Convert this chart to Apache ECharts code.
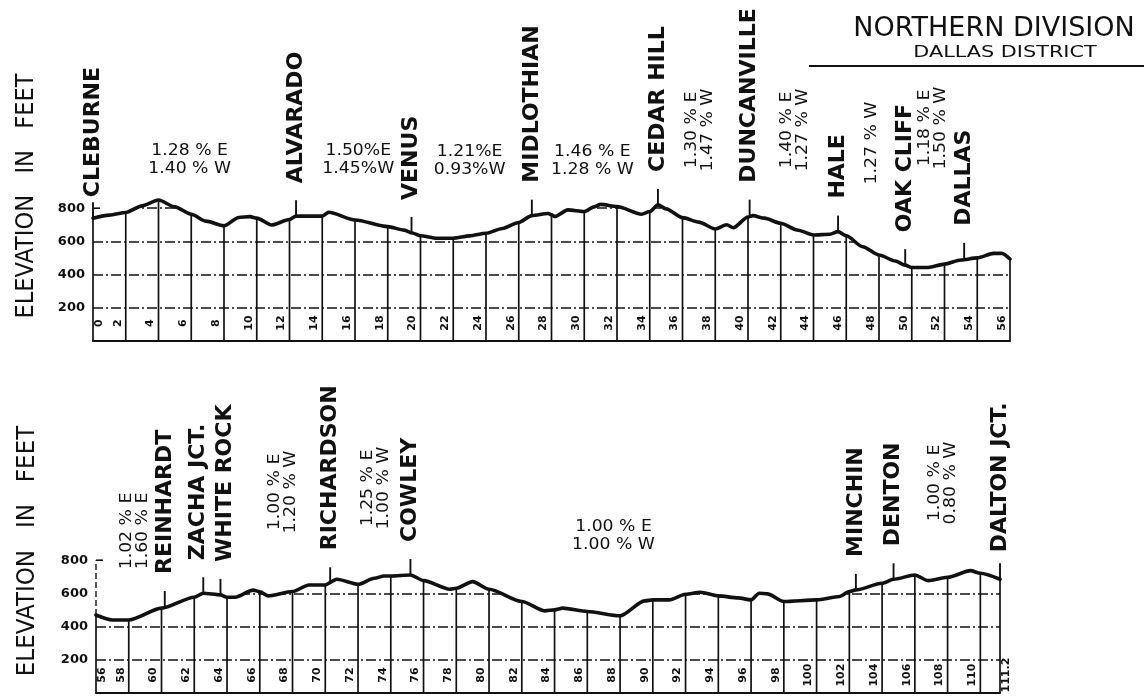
<!DOCTYPE html>
<html><head><meta charset="utf-8">
<script src="https://cdn.jsdelivr.net/npm/echarts@6/dist/echarts.min.js"></script>
<style>html,body{margin:0;padding:0;background:#fff}#c{width:1144px;height:696px}</style>
</head><body><div id="c"></div>
<script>
// ---------- DATA ----------
// profile: [milepost, elevation ft]
const topProfile = [[0,740],[1,758],[2,774],[3,814],[4,849],[5,808],[6,764],[6.9,722],[8,694],[8.9,744],[9.6,749],[10,740],[10.9,699],[12,732],[12.4,752],[14,752],[14.4,776],[16,729],[18,689],[19,668],[19.5,651],[20,634],[21,619],[22,619],[23,633],[24,649],[25,678],[26,714],[26.8,755],[27.8,768],[28,760],[28.2,750],[29,790],[30,780],[30.6,808],[31,823],[32,810],[33.5,764],[34,780],[34.5,820],[35,796],[36,743],[37,716],[38,675],[38.7,700],[39.1,682],[40,747],[40.3,755],[41,740],[42,709],[43,669],[44,639],[45,643],[45.5,659],[46,634],[47,568],[48,518],[49,482],[49.6,457],[50,443],[51,443],[52,463],[53,488],[54,501],[55,528],[55.5,528],[56,494]];
const bottomProfile = [[56,470],[57,440],[58,440],[60,511],[62,577],[62.55,601],[63.6,591],[64,577],[64.5,577],[65.6,620],[66,610],[66.5,585],[68,611],[69,651],[70,651],[70.7,685],[72,655],[73,691],[73.6,705],[74,705],[75.2,711],[76,677],[77.6,625],[78,631],[79,671],[80,625],[82,551],[83.4,495],[84,501],[84.5,511],[86,491],[88,465],[89.5,555],[90,561],[91,561],[92,595],[92.9,607],[94,585],[95.2,573],[96,561],[96.5,601],[97,597],[98,551],[100,561],[101.4,581],[102,611],[102.4,621],[104,661],[104.7,685],[106,711],[106.8,677],[108,697],[109.4,737],[110,721],[111.2,685]];

const topStations = ['CLEBURNE','ALVARADO','VENUS','MIDLOTHIAN','CEDAR HILL','DUNCANVILLE','HALE','OAK CLIFF','DALLAS'];
const topStationMiles = [0,12.4,19.45,26.8,34.5,40.1,45.5,49.6,53.2];
const topStationElev = [740,752,651,755,820,755,659,457,495];

const bottomStations = ['REINHARDT','ZACHA JCT.','WHITE ROCK','RICHARDSON','COWLEY','MINCHIN','DENTON','DALTON JCT.'];
const bottomStationMiles = [60.2,62.55,63.6,70.3,75.2,102.4,104.7,111.2];
const bottomStationElev = [518,601,591,661,711,621,685,685];

const topTickLabels = ['0','2','4','6','8','10','12','14','16','18','20','22','24','26','28','30','32','34','36','38','40','42','44','46','48','50','52','54','56'];
const bottomTickLabels = ['56','58','60','62','64','66','68','70','72','74','76','78','80','82','84','86','88','90','92','94','96','98','100','102','104','106','108','110','111.2'];
const elevTickLabels = ['200','400','600','800'];

const topGrades = [['1.28 % E','1.40 % W'],['1.50%E','1.45%W'],['1.21%E','0.93%W'],['1.46 % E','1.28 % W'],['1.30 % E','1.47 % W'],['1.40 % E','1.27 % W'],['1.27 % W'],['1.18 % E','1.50 % W']];
const topGradeMiles = [5.9,16.2,23.0,30.5,37.1,42.9,47.6,51.3];
const bottomGrades = [['1.02 % E','1.60 % E'],['1.00 % E','1.20 % W'],['1.25 % E','1.00 % W'],['1.00 % E','1.00 % W'],['1.00 % E','0.80 % W']];
const bottomGradeMiles = [58.4,67.4,73.1,87.6,107.7];

// ---------- LAYOUT (pixel offsets of annotations, not data) ----------
const topGradeLayout = [{dy:181,rot:0},{dy:181,rot:0},{dy:180,rot:0},{dy:180,rot:0},{dy:211,rot:1},{dy:211,rot:1},{dy:198,rot:1},{dy:213,rot:1}];
const bottomGradeLayout = [{dy:162,rot:1},{dy:201,rot:1},{dy:205,rot:1},{dy:157,rot:0},{dy:210,rot:1}];
const topNameShift = [[0,-12],[0,0],[0,0],[0,0],[0,0],[0,0],[0,0],[0,0],[0,0]];
const bottomNameShift = [[0,0],[-5,0],[5,0],[0,0],[0,0],[0,0],[0,0],[0,-6]];

const INK = '#111';
const FONT = '"DejaVu Sans", sans-serif';
const TOP_ELEV = Math.max(...elevTickLabels.map(Number));

function profileSeries(i, data) {
  return {
    type:'line', xAxisIndex:i, yAxisIndex:i, data:data, symbol:'none', showSymbol:false,
    smooth:0.25, smoothMonotone:'x', clip:false, silent:true,
    lineStyle:{color:INK, width:3.6, join:'round', cap:'round'},
    areaStyle:{color:'#fff', opacity:1, origin:'end'},
    z:2
  };
}
function verticalsSeries(i, data) {
  const last = data[data.length-1][0];
  const pts = data.filter(d => Math.abs(d[0] % 2) < 1e-9 || d[0] === last);
  return {
    type:'custom', xAxisIndex:i, yAxisIndex:i, data:pts, clip:false, silent:true, z:3,
    renderItem:(p, api) => {
      const a = api.coord([api.value(0), 0]);
      const b = api.coord([api.value(0), api.value(1)]);
      const kids = [{type:'line', shape:{x1:a[0],y1:a[1],x2:b[0],y2:b[1]}, style:{stroke:INK, lineWidth:1.7}}];
      if (p.dataIndex === 0) {
        const t = api.coord([api.value(0), TOP_ELEV]);
        kids.push({type:'line', shape:{x1:b[0],y1:b[1],x2:t[0],y2:t[1]}, style:{stroke:INK, lineWidth:1.4, lineDash:[6,3]}});
        kids.push({type:'line', shape:{x1:t[0],y1:t[1],x2:t[0]+7,y2:t[1]}, style:{stroke:INK, lineWidth:1.6}});
      }
      return {type:'group', children:kids};
    }
  };
}
function stationSeries(i, names, miles, elev, shift) {
  return {
    type:'custom', xAxisIndex:i, yAxisIndex:i, clip:false, silent:true, z:5,
    data: miles.map((m,k) => [m, elev[k]]),
    renderItem:(p, api) => {
      const c = api.coord([api.value(0), api.value(1)]);
      const s = shift[p.dataIndex];
      return {type:'group', children:[
        {type:'line', shape:{x1:c[0],y1:c[1],x2:c[0],y2:c[1]-16}, style:{stroke:INK, lineWidth:1.9}},
        {type:'text', x:c[0]+s[0], y:c[1]-33-s[1], rotation:Math.PI/2,
         style:{text:names[p.dataIndex], font:'bold 22px '+FONT, fill:INK,
                align:'left', verticalAlign:'middle', textAlign:'left', textVerticalAlign:'middle'}}
      ]};
    }
  };
}
function gradeSeries(i, notes, miles, layout) {
  return {
    type:'custom', xAxisIndex:i, yAxisIndex:i, clip:false, silent:true, z:5,
    data: miles.map(m => [m, 0]),
    renderItem:(p, api) => {
      const L = layout[p.dataIndex];
      const c = api.coord([api.value(0), 0]);
      return {type:'text', x:c[0], y:c[1]-L.dy, rotation: L.rot ? Math.PI/2 : 0, scaleX:1.15,
        style:{text:notes[p.dataIndex].join('\n'), font:'15px '+FONT, fill:INK, lineHeight: L.rot ? 16 : 18,
               align:'center', verticalAlign:'middle', textAlign:'center', textVerticalAlign:'middle'}};
    }
  };
}
function tickLabelSeries(i, labels) {
  return {
    type:'custom', xAxisIndex:i, yAxisIndex:i, clip:false, silent:true, z:5,
    data: labels.map(s => [parseFloat(s), 0]),
    renderItem:(p, api) => {
      const v = api.value(0);
      const right = p.dataIndex === 0 || Math.abs(v % 2) > 1e-9;
      const c = api.coord([v, 108]);
      return {type:'text', x:c[0] + (right ? 6 : -8), y:c[1], rotation:Math.PI/2,
        style:{text:labels[p.dataIndex], font:'bold 11px '+FONT, fill:INK,
               align:'center', verticalAlign:'middle', textAlign:'center', textVerticalAlign:'middle'}};
    }
  };
}
function yAxisFor(i) {
  return {
    type:'value', gridIndex:i, min:0, max:1000, interval:200,
    axisLine:{show:false}, axisTick:{show:false},
    axisLabel:{margin:8, color:INK, fontFamily:'DejaVu Sans', fontWeight:'bold', fontSize:13,
      formatter: v => elevTickLabels.includes(String(v)) ? String(v) : ''},
    splitLine:{show:true, lineStyle:{color:['rgba(0,0,0,0)',INK,INK,INK,INK,'rgba(0,0,0,0)'], width:1.5, type:[10,3,2,3]}}
  };
}
function xAxisFor(i, min, max) {
  return {
    type:'value', gridIndex:i, min:min, max:max,
    axisLine:{show:true, onZero:false, lineStyle:{color:INK, width:2.2}},
    axisTick:{show:false}, axisLabel:{show:false}, splitLine:{show:false}
  };
}
const titleStyle = {fill:INK, align:'center', verticalAlign:'middle', textAlign:'center', textVerticalAlign:'middle'};

const option = {
  animation:false,
  backgroundColor:'#fff',
  grid:[
    {left:93, width:917, top:175, height:166},
    {left:96, width:904, top:527, height:166}
  ],
  xAxis:[xAxisFor(0, 0, 56), xAxisFor(1, 56, 111.2)],
  yAxis:[yAxisFor(0), yAxisFor(1)],
  graphic:[
    {type:'text', x:994, y:29, style:Object.assign({text:'NORTHERN DIVISION', font:'27px '+FONT}, titleStyle)},
    {type:'text', x:1005, y:53, scaleX:1.3, style:Object.assign({text:'DALLAS DISTRICT', font:'16px '+FONT}, titleStyle)},
    {type:'line', shape:{x1:809, y1:66, x2:1144, y2:66}, style:{stroke:INK, lineWidth:2}},
    {type:'text', x:26, y:196, rotation:Math.PI/2, scaleX:0.9, style:Object.assign({text:'ELEVATION   IN   FEET', font:'25px '+FONT}, titleStyle)},
    {type:'text', x:27, y:551, rotation:Math.PI/2, scaleX:0.92, style:Object.assign({text:'ELEVATION   IN   FEET', font:'25px '+FONT}, titleStyle)}
  ],
  series:[
    profileSeries(0, topProfile),
    verticalsSeries(0, topProfile),
    stationSeries(0, topStations, topStationMiles, topStationElev, topNameShift),
    gradeSeries(0, topGrades, topGradeMiles, topGradeLayout),
    tickLabelSeries(0, topTickLabels),
    profileSeries(1, bottomProfile),
    verticalsSeries(1, bottomProfile),
    stationSeries(1, bottomStations, bottomStationMiles, bottomStationElev, bottomNameShift),
    gradeSeries(1, bottomGrades, bottomGradeMiles, bottomGradeLayout),
    tickLabelSeries(1, bottomTickLabels)
  ]
};
const chart = echarts.init(document.getElementById('c'));
chart.setOption(option);
</script>
</body></html>
